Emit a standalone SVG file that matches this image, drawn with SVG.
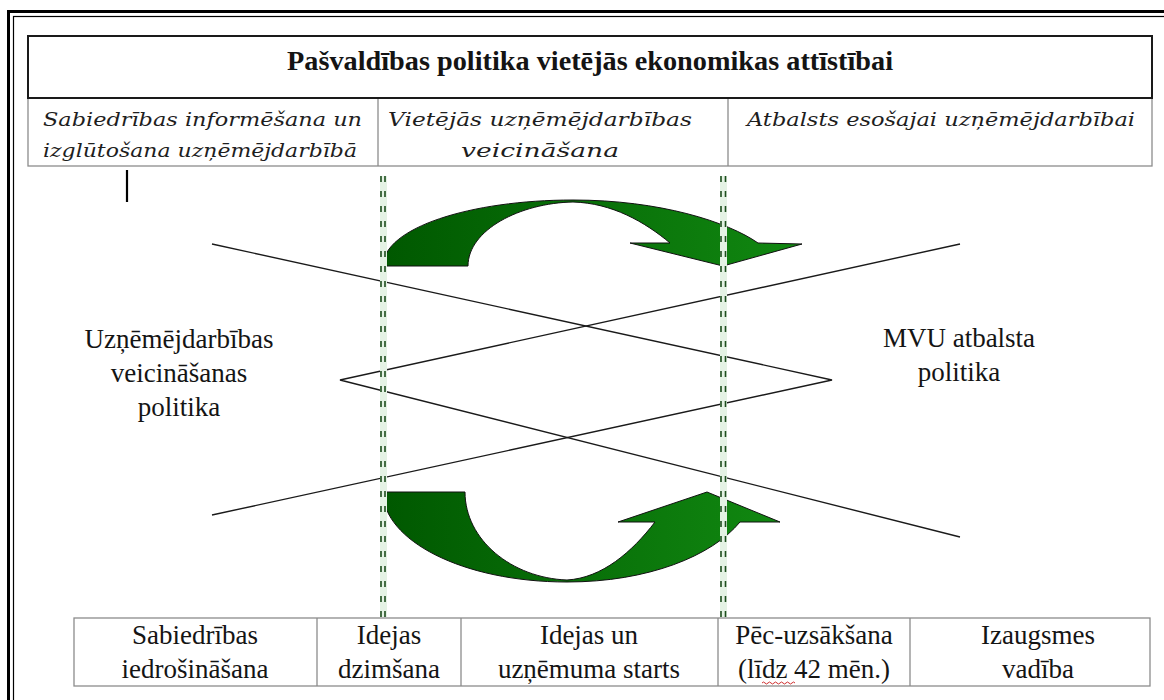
<svg xmlns="http://www.w3.org/2000/svg" width="1164" height="700" viewBox="0 0 1164 700">
<defs>
<style>
.serif{font-family:"Liberation Serif","Times New Roman",serif;fill:#141414}
.title{font-weight:bold;font-size:28px}
.it{font-family:"DejaVu Serif","Liberation Serif",serif;font-style:italic;font-size:19px;fill:#1e1e1e}
.lbl{font-size:27px}
.cell{fill:#fff;stroke:#8c8c8c;stroke-width:1.3}
.div{stroke:#8c8c8c;stroke-width:1.3}
.band{fill:#e4f2e4}
.guide{stroke:#1d4d1d;stroke-width:1.6;stroke-dasharray:6 9;fill:none}
.conn{stroke:#1a1a1a;stroke-width:1.4;fill:none}
.arrow{fill:url(#g);stroke:#111;stroke-width:1}
</style>
<linearGradient id="g" x1="0" y1="0" x2="1" y2="0">
<stop offset="0" stop-color="#005800"/>
<stop offset="1" stop-color="#118811"/>
</linearGradient>
</defs>
<rect x="0" y="0" width="1164" height="700" fill="#fff"/>

<g id="frame">
<rect x="8.5" y="11.5" width="1200" height="800" fill="none" stroke="#000" stroke-width="3"/>
<rect x="13.5" y="16.5" width="1190" height="790" fill="none" stroke="#000" stroke-width="1.2"/>
</g>

<g id="header-row">
<rect class="cell" x="28" y="98" width="1124" height="68"/>
<line class="div" x1="378" y1="98" x2="378" y2="166"/>
<line class="div" x1="728" y1="98" x2="728" y2="166"/>
</g>

<g id="title">
<rect x="28" y="36" width="1124" height="62" fill="#fff" stroke="#1a1a1a" stroke-width="2"/>
<text class="serif title" x="590" y="70" text-anchor="middle" textLength="606" lengthAdjust="spacingAndGlyphs">Pašvaldības politika vietējās ekonomikas attīstībai</text>
</g>

<g id="cell-informesana">
<text class="it" x="43" y="126" textLength="319" lengthAdjust="spacingAndGlyphs">Sabiedrības informēšana un</text>
<text class="it" x="43" y="157" textLength="314" lengthAdjust="spacingAndGlyphs">izglūtošana uzņēmējdarbībā</text>
</g>

<g id="cell-veicinasana">
<text class="it" x="540" y="126" text-anchor="middle" textLength="304" lengthAdjust="spacingAndGlyphs">Vietējās uzņēmējdarbības</text>
<text class="it" x="540" y="157" text-anchor="middle" textLength="158" lengthAdjust="spacingAndGlyphs">veicināšana</text>
</g>

<g id="cell-atbalsts">
<text class="it" x="747" y="126" textLength="388" lengthAdjust="spacingAndGlyphs">Atbalsts esošajai uzņēmējdarbībai</text>
</g>

<g id="tick">
<line x1="127" y1="170" x2="127" y2="202" stroke="#000" stroke-width="2.2"/>
</g>

<g id="connectors">
<polyline class="conn" points="212,244 832,380 212,515"/>
<polyline class="conn" points="960,244 340,380 960,537"/>
</g>

<g id="arrow-top">
<path class="arrow" d="M383,266 C383,228 470,200 573,200 C660,200 728,222 758,243 L802,244 L723,266 L630,243 L670,243 C645,222 612,203 573,202 C520,203 468,230 468,266 Z"/>
</g>

<g id="arrow-bottom">
<path class="arrow" d="M383,492 C383,540 462,582 567,582 C648,582 712,556 740,522 L780,522 L707,492 L618,522 L655,522 C632,552 602,578 567,580 C512,578 465,540 465,492 Z"/>
</g>

<g id="guides">
<rect class="band" x="380" y="176" width="7" height="441"/>
<rect class="band" x="720" y="176" width="7" height="441"/>
<line class="guide" x1="381" y1="176" x2="381" y2="617"/>
<line class="guide" x1="385" y1="176" x2="385" y2="617"/>
<line class="guide" x1="721" y1="176" x2="721" y2="617"/>
<line class="guide" x1="725.5" y1="176" x2="725.5" y2="617"/>
</g>

<g id="label-left">
<text class="serif lbl" x="179" y="348" text-anchor="middle">Uzņēmējdarbības</text>
<text class="serif lbl" x="179" y="382" text-anchor="middle">veicināšanas</text>
<text class="serif lbl" x="179" y="416" text-anchor="middle">politika</text>
</g>

<g id="label-right">
<text class="serif lbl" x="959" y="347" text-anchor="middle">MVU atbalsta</text>
<text class="serif lbl" x="959" y="381" text-anchor="middle">politika</text>
</g>

<g id="stages">
<rect class="cell" x="74" y="618" width="1076" height="68"/>
<line class="div" x1="317" y1="618" x2="317" y2="686"/>
<line class="div" x1="461" y1="618" x2="461" y2="686"/>
<line class="div" x1="718" y1="618" x2="718" y2="686"/>
<line class="div" x1="910" y1="618" x2="910" y2="686"/>
</g>

<g id="stage-1">
<text class="serif lbl" x="195" y="644" text-anchor="middle">Sabiedrības</text>
<text class="serif lbl" x="195" y="678" text-anchor="middle">iedrošināšana</text>
</g>
<g id="stage-2">
<text class="serif lbl" x="389" y="644" text-anchor="middle">Idejas</text>
<text class="serif lbl" x="389" y="678" text-anchor="middle">dzimšana</text>
</g>
<g id="stage-3">
<text class="serif lbl" x="589" y="644" text-anchor="middle">Idejas un</text>
<text class="serif lbl" x="589" y="678" text-anchor="middle">uzņēmuma starts</text>
</g>
<g id="stage-4">
<text class="serif lbl" x="814" y="644" text-anchor="middle">Pēc-uzsākšana</text>
<text class="serif lbl" x="814" y="678" text-anchor="middle">(līdz 42 mēn.)</text>
<path d="M762,683 q1.5,-2 3,0 t3,0 t3,0 t3,0 t3,0 t3,0 t3,0 t3,0 t3,0 t3,0 t3,0" fill="none" stroke="#d03030" stroke-width="1"/>
</g>
<g id="stage-5">
<text class="serif lbl" x="1038" y="644" text-anchor="middle">Izaugsmes</text>
<text class="serif lbl" x="1038" y="678" text-anchor="middle">vadība</text>
</g>
</svg>
